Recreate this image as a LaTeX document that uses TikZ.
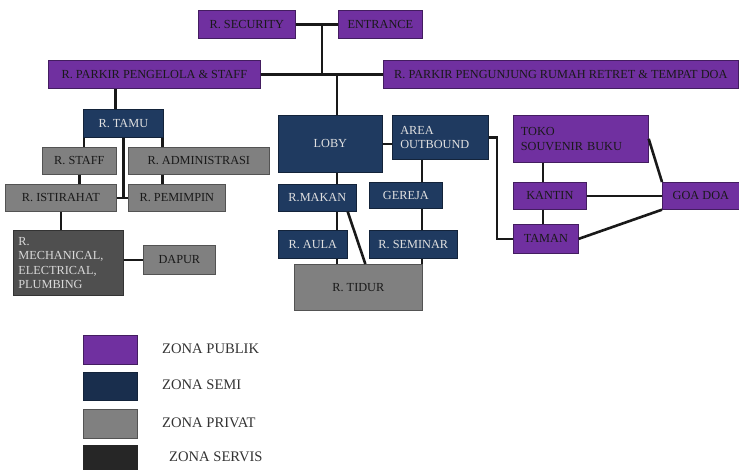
\documentclass[tikz,border=0pt]{standalone}
\usepackage{fontspec}
\setmainfont{Liberation Serif}
\usepackage{tikz}
\usetikzlibrary{positioning, calc}
\definecolor{publik}{HTML}{7030A0}
\definecolor{semi}{HTML}{1F3A60}
\definecolor{privat}{HTML}{808080}
\definecolor{servis}{HTML}{4F4F4F}
\definecolor{servisleg}{HTML}{262626}
\tikzset{every node/.append style={inner sep=2pt}}

\begin{document}
\begin{tikzpicture}[
    x=1pt, y=-1pt,
    room/.style={rectangle, anchor=north west, line width=0.7pt,
        font=\fontsize{12.3}{14.5}\selectfont},
    pub/.style={room, draw=publik!60!black, fill=publik, text=black!90},
    semiz/.style={room, draw=semi!60!black, fill=semi, text=white!88!black},
    priv/.style={room, draw=privat!65!black, fill=privat, text=black!90},
    serv/.style={room, draw=servis!65!black, fill=servis, text=white!85!black},
    sz/.style n args={2}{minimum width=#1pt, minimum height=#2pt},
    link/.style={line width=2.6pt, black!90},
    legtext/.style={anchor=west, font=\fontsize{14.6}{16}\selectfont, text=black!80}
]
\useasboundingbox (0,0) rectangle (739,470);
% entrance and parking
\node[pub, sz={97}{28}] (sec) at (198,10) {R. SECURITY};
\node[pub, sz={84}{28}] (ent) at (338,10) {ENTRANCE};
\node[pub, sz={212}{28}] (pstaff) at (48,60) {R. PARKIR PENGELOLA \& STAFF};
\node[pub, sz={355}{28}] (pvis) at (383,60) {R. PARKIR PENGUNJUNG RUMAH RETRET \& TEMPAT DOA};
\coordinate (j1) at (322,24);
\coordinate (j3) at (337,74);
\draw[link] (sec) -- (ent);
\draw[link] (j1) -- (j1 |- pstaff.east);
\draw[link] (pstaff) -- (pvis);
% staff wing (left)
\node[semiz, sz={80}{28}] (tamu) at (83,109) {R. TAMU};
\node[priv, sz={74}{27}] (staff) at (42,147) {R. STAFF};
\node[priv, sz={141}{27}] (admin) at (128,147) {R. ADMINISTRASI};
\node[priv, sz={111}{27}] (istirahat) at (5,184) {R. ISTIRAHAT};
\node[priv, sz={97}{27}] (pemimpin) at (128,184) {R. PEMIMPIN};
\node[serv, sz={110}{65}, align=left, text width=100pt] (mep) at (13,230)
    {R.\\MECHANICAL,\\ELECTRICAL,\\PLUMBING};
\node[priv, sz={72}{29}] (dapur) at (143,245) {DAPUR};
\draw[link] ([xshift=-8pt]tamu.north) -- ([xshift=-8pt]tamu.north |- pstaff.south);
\draw[link] ([xshift=1pt]tamu.south west) -- ([xshift=1pt]tamu.south west |- staff.north);
\draw[link] ([xshift=-1pt]tamu.south east) -- ([xshift=-1pt]tamu.south east |- admin.north);
\draw[link] (tamu.south) -- (tamu.south |- istirahat.east);
\draw[link] (istirahat) -- (pemimpin);
\draw[link] (staff.south) -- (staff.south |- istirahat.north);
\draw[link] ([xshift=-1pt]tamu.south east |- admin.south) -- ([xshift=-1pt]tamu.south east |- pemimpin.north);
\draw[link] (istirahat.south) -- (istirahat.south |- mep.north);
\draw[link] (mep.east |- dapur.west) -- (dapur.west);
% lobby and halls (middle)
\node[semiz, sz={104}{57}] (loby) at (278,115) {LOBY};
\node[semiz, sz={96}{44}, align=left, text width=80pt] (outbound) at (392,115) {AREA\\OUTBOUND};
\node[semiz, sz={78}{27}] (makan) at (278,184) {R.MAKAN};
\node[semiz, sz={73}{26}] (gereja) at (369,182) {GEREJA};
\node[semiz, sz={69}{28}] (aula) at (278,230) {R. AULA};
\node[semiz, sz={88}{28}] (seminar) at (369,230) {R. SEMINAR};
\node[priv, sz={128}{46}] (tidur) at (294,264) {R. TIDUR};
\coordinate (j4) at (422,150);
\coordinate (j5) at (497,150);
\draw[link] (j3) -- (j3 |- loby.north);
\draw[link] (loby.east) -- (loby.east -| outbound.west);
\draw[link] (j3 |- loby.south) -- (j3 |- makan.north);
\draw[link] (j3 |- makan.south) -- (j3 |- aula.north);
\draw[link] (j3 |- aula.south) -- (j3 |- tidur.north);
\draw[link] ([xshift=-9pt]makan.south east) -- ([xshift=7pt]tidur.north);
\draw[link] (j4 |- outbound.south) -- (j4 |- gereja.north);
\draw[link] (j4 |- gereja.south) -- (j4 |- seminar.north);
\draw[link] (j4 |- seminar.south) -- (j4 |- tidur.north);
% shop, garden and prayer cave (right)
\node[pub, sz={135}{47}, align=left, text width=120pt] (toko) at (513,115) {TOKO\\SOUVENIR BUKU};
\node[pub, sz={73}{27}] (kantin) at (513,182) {KANTIN};
\node[pub, sz={65}{29}] (taman) at (513,224) {TAMAN};
\node[pub, sz={77}{27}] (goa) at (662,182) {GOA DOA};
\draw[link] (outbound.east) -- (outbound.east -| j5) -- (j5 |- taman.west) -- (taman.west);
\draw[link] ([xshift=30pt]toko.south west) -- ([xshift=30pt]kantin.north west);
\draw[link] ([xshift=30pt]kantin.south west) -- ([xshift=30pt]taman.north west);
\draw[link] (kantin) -- (goa);
\draw[link] (toko.east) -- (goa.north west);
\draw[link] (taman.east) -- (goa.south west);
% legend
\node[room, draw=publik!60!black, fill=publik, sz={54}{29}] (lpub) at (83,335) {};
\node[room, draw=semi!60!black, fill=semi!80!black, sz={54}{28}] (lsemi) at (83,372) {};
\node[room, draw=privat!65!black, fill=privat, sz={54}{29}] (lpriv) at (83,409) {};
\node[room, draw=servisleg, fill=servisleg, sz={54}{27}] (lserv) at (83,445) {};
\node[legtext] (tpub) at (160,349) {ZONA PUBLIK};
\node[legtext] (tsemi) at (160,385) {ZONA SEMI};
\node[legtext] (tpriv) at (160,423) {ZONA PRIVAT};
\node[legtext] (tserv) at (167,457) {ZONA SERVIS};
\end{tikzpicture}
\end{document}
